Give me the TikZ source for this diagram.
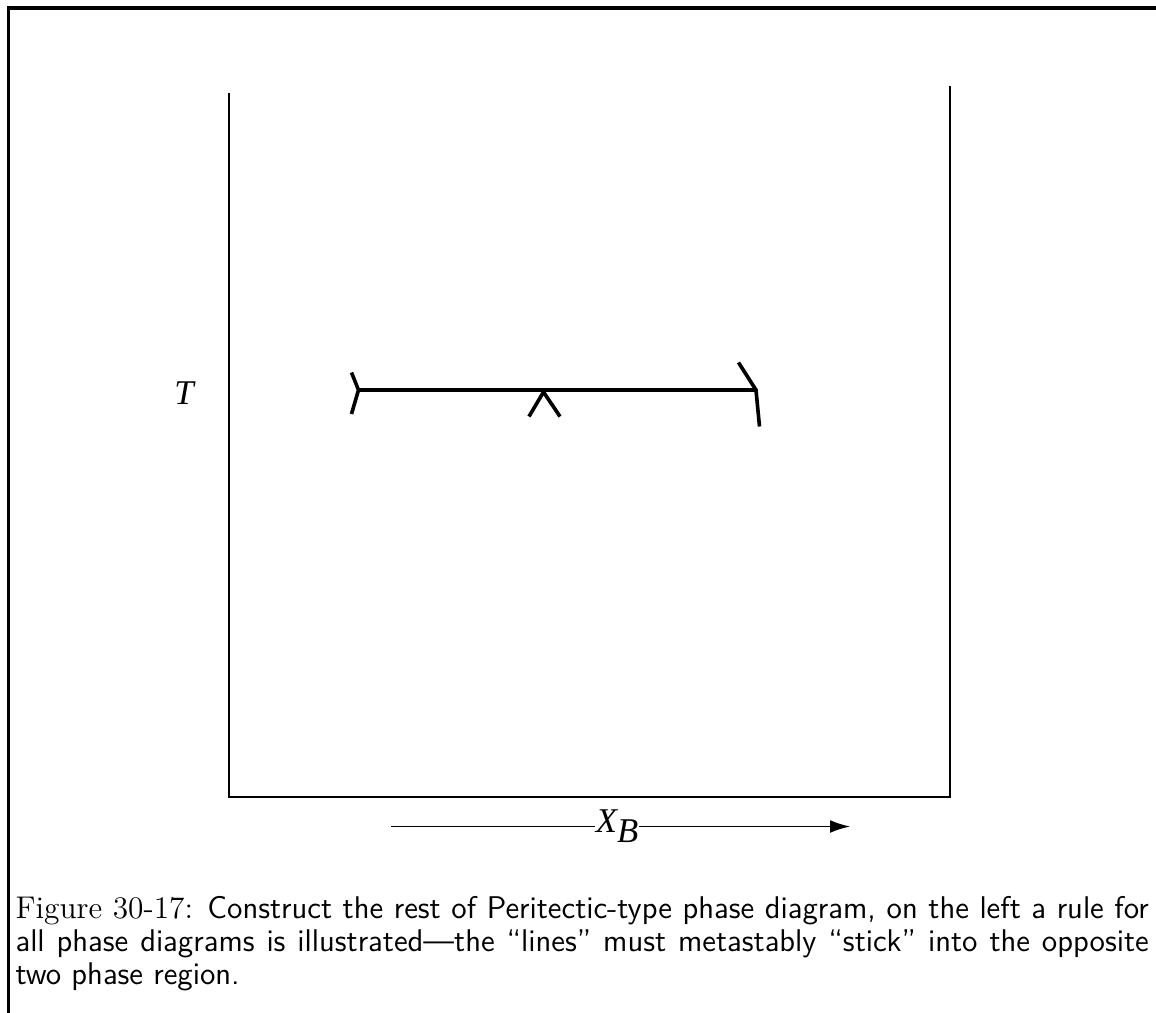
\documentclass[tikz,border=0pt]{standalone}
\usepackage{fontspec}
\newfontfamily\psfont{Liberation Serif}
\usetikzlibrary{arrows.meta}
\begin{document}
\begin{tikzpicture}[x=0.36pt,y=-0.36pt,
  frameline/.style={line width=1.1pt},
  axisline/.style={line width=0.6pt},
  tieline/.style={line width=1.45pt},
  tick/.style={line width=1.3pt},
  lbl/.style={inner sep=0pt,font=\fontsize{12.5}{14}\psfont\itshape}]
\useasboundingbox (0,0) rectangle (1156,1013);
% frame
\coordinate (ftl) at (8.5,8);
\coordinate (ftr) at (1160,8);
\coordinate (fbl) at (8.5,1016);
\draw[frameline] (ftr) -- (ftl) -- (fbl);
% axes
\coordinate (ltop) at (229,93);
\coordinate (bl) at (229,797);
\coordinate (br) at (950,797);
\coordinate (rtop) at (950,86);
\draw[axisline] (ltop) -- (bl) -- (br) -- (rtop);
% tie line
\coordinate (tl) at (358.5,390);
\coordinate (tr) at (756,390);
\draw[tieline] (tl) -- (tr);
% left end
\coordinate (la) at (351.5,372.5);
\coordinate (lb) at (351.5,414);
\draw[tick] (la) -- (tl) -- (lb);
% middle caret
\coordinate (mv) at (543.5,392);
\coordinate (ma) at (529,416.5);
\coordinate (mb) at (560,416.5);
\draw[tick] (ma) -- (mv) -- (mb);
% right end
\coordinate (ra) at (738.5,362.5);
\coordinate (rb) at (759.5,426.5);
\draw[tick] (ra) -- (tr) -- (rb);
% labels
\node[lbl] (T) at (184,393) {T};
\node[lbl,anchor=base] (XB) at (617,832) {X\raisebox{-3.9pt}{B}};
\coordinate (xs) at (391,826.5);
\coordinate (xe) at (850,826.5);
\draw[line width=0.5pt] (xs) -- (XB.west |- xs);
\draw[line width=0.5pt,-{Latex[length=7.2pt,width=4.6pt]}] (XB.east |- xe) -- (xe);
% caption
\node[inner sep=0pt,anchor=base west] (cap) at (15,918) {\parbox[t]{408pt}{\fontsize{11.3}{12}\selectfont\rmfamily Figure 30-17: \sffamily Construct the rest of Peritectic-type phase diagram, on the left a rule for all phase diagrams is illustrated---the ``lines'' must metastably ``stick'' into the opposite two phase region.}};
\end{tikzpicture}
\end{document}
